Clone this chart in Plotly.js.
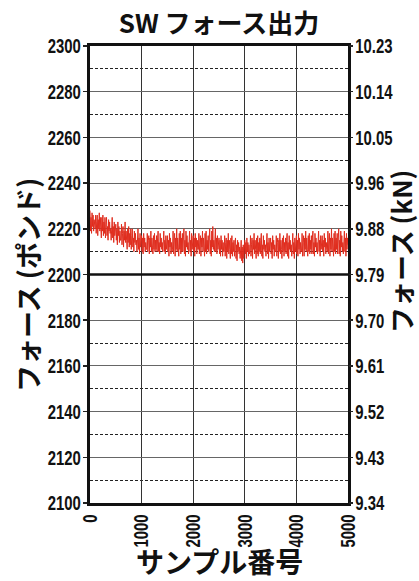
<!DOCTYPE html>
<html>
<head>
<meta charset="utf-8">
<script src="https://cdn.plot.ly/plotly-3.0.1.min.js"></script>
<style>
html,body{margin:0;padding:0;background:#fff;}
#chart{width:419px;height:581px;}
</style>
</head>
<body>
<div id="chart"></div>
<script>
// Sample number axis
const sampleStart = 0;
const sampleStep = 10;
const xTicks = [0, 1000, 2000, 3000, 4000, 5000];
const xTickText = ["0", "1000", "2000", "3000", "4000", "5000"];

// Force (lbf), one value every 10 samples
const forceLbf = [
 2228,2219,2225,2218,2227,2221,2226,2219,2224,2220,
 2220,2226,2218,2223,2226,2217,2224,2220,2227,2219,
 2225,2220,2216,2225,2219,2226,2217,2223,2218,2225,
 2216,2222,2225,2217,2221,2215,2224,2219,2223,2218,
 2220,2215,2222,2225,2216,2221,2214,2223,2217,2222,
 2222,2215,2220,2213,2223,2217,2221,2214,2219,2215,
 2215,2222,2213,2218,2221,2212,2219,2215,2223,2214,
 2219,2215,2211,2220,2214,2221,2212,2218,2213,2220,
 2211,2217,2220,2212,2216,2210,2219,2214,2218,2213,
 2215,2210,2217,2220,2211,2216,2209,2218,2212,2217,
 2217,2210,2216,2209,2218,2212,2216,2210,2214,2211,
 2211,2218,2210,2215,2217,2209,2216,2212,2219,2210,
 2216,2212,2209,2217,2211,2218,2210,2215,2211,2217,
 2210,2216,2219,2210,2214,2209,2218,2212,2216,2211,
 2214,2210,2216,2219,2210,2215,2209,2217,2211,2216,
 2217,2210,2215,2208,2218,2212,2216,2209,2214,2210,
 2211,2219,2209,2215,2218,2208,2216,2211,2220,2210,
 2216,2212,2208,2218,2211,2219,2209,2216,2210,2218,
 2210,2216,2220,2209,2215,2208,2219,2212,2217,2211,
 2214,2209,2217,2219,2210,2215,2208,2218,2211,2216,
 2217,2210,2216,2208,2218,2212,2216,2209,2215,2211,
 2211,2218,2209,2215,2217,2208,2216,2212,2219,2210,
 2216,2212,2208,2218,2210,2219,2209,2215,2211,2217,
 2210,2216,2220,2209,2215,2208,2219,2212,2221,2211,
 2215,2210,2218,2220,2210,2216,2209,2217,2211,2216,
 2216,2209,2215,2208,2217,2211,2215,2208,2214,2210,
 2210,2217,2208,2214,2216,2207,2215,2210,2218,2209,
 2215,2211,2207,2216,2209,2217,2208,2214,2210,2215,
 2208,2214,2216,2207,2213,2206,2215,2210,2214,2209,
 2212,2207,2214,2215,2206,2212,2205,2213,2207,2212,
 2215,2209,2214,2207,2216,2210,2214,2208,2213,2209,
 2210,2217,2208,2213,2216,2207,2215,2211,2218,2209,
 2215,2211,2207,2216,2209,2217,2208,2214,2210,2216,
 2209,2215,2218,2208,2213,2207,2217,2211,2215,2210,
 2213,2208,2216,2218,2209,2214,2207,2216,2210,2215,
 2216,2209,2214,2207,2217,2211,2215,2208,2213,2210,
 2210,2217,2208,2214,2216,2207,2215,2210,2218,2209,
 2215,2211,2207,2216,2210,2217,2208,2214,2210,2216,
 2209,2215,2218,2208,2214,2207,2217,2211,2215,2210,
 2213,2208,2216,2218,2209,2214,2207,2216,2210,2215,
 2217,2209,2215,2208,2218,2211,2216,2209,2214,2210,
 2210,2218,2208,2214,2217,2208,2216,2211,2219,2210,
 2216,2211,2208,2217,2210,2218,2209,2215,2211,2217,
 2209,2216,2219,2209,2214,2208,2218,2212,2216,2210,
 2214,2209,2217,2219,2210,2215,2208,2217,2211,2216,
 2217,2210,2215,2208,2218,2212,2216,2209,2214,2211,
 2210,2219,2209,2215,2218,2208,2216,2211,2220,2210,
 2216,2212,2208,2218,2210,2219,2209,2216,2211,2218,
 2209,2216,2220,2209,2215,2208,2219,2212,2217,2210,
 2214,2209,2217,2219,2210,2216,2208,2218,2211,2216,
 2213
];

// Left axis ticks (lbf) and right axis labels (kN)
const yTicksLbf = [2100,2120,2140,2160,2180,2200,2220,2240,2260,2280,2300];
const yTickText = ["2100","2120","2140","2160","2180","2200","2220","2240","2260","2280","2300"];
const kNTickText = ["9.34","9.43","9.52","9.61","9.70","9.79","9.88","9.96","10.05","10.14","10.23"];
const refLine = 2200;

const tickFont = {family: '"Liberation Sans", Arial, sans-serif', size: 21, color: '#111', weight: 'bold'};
const jp = '"Noto Sans CJK JP", sans-serif';
const titleFont = (s) => ({family: jp, size: s, color: '#111'});

const traces = [
  {
    type: 'scatter', mode: 'lines',
    x0: sampleStart, dx: sampleStep, y: forceLbf,
    line: {color: 'rgb(224,45,30)', width: 1},
    showlegend: false, hoverinfo: 'skip'
  },
  {
    type: 'scatter', mode: 'lines', x: [], y: [], yaxis: 'y2', showlegend: false
  }
];

const layout = {
  width: 419, height: 581,
  margin: {l: 90, r: 71, t: 46, b: 78},
  paper_bgcolor: '#fff', plot_bgcolor: '#fff',
  title: {
    text: '<b>SW フォース出力</b>',
    font: titleFont(26),
    x: 0.5, xref: 'paper', xanchor: 'center',
    y: 1 - 24/581, yref: 'container', yanchor: 'middle'
  },
  xaxis: {
    range: [0, 5000],
    tickvals: xTicks, ticktext: xTickText, tickangle: -90,
    tickfont: tickFont,
    ticks: '',
    showgrid: true, gridcolor: '#333', gridwidth: 1,
    showline: true, linecolor: '#111', linewidth: 3, mirror: true,
    zeroline: false
  },
  yaxis: {
    range: [2100, 2300],
    tickvals: yTicksLbf, ticktext: yTickText,
    tickfont: tickFont, ticklabelstandoff: -2,
    ticks: 'outside', ticklen: 4, tickwidth: 1.5, tickcolor: '#222',
    showgrid: true, gridcolor: '#666', gridwidth: 1,
    minor: {dtick: 10, tick0: 2100, showgrid: true, gridcolor: '#222', griddash: '3px,2px', gridwidth: 1},
    showline: true, linecolor: '#111', linewidth: 3, mirror: true,
    zeroline: false
  },
  yaxis2: {
    overlaying: 'y', side: 'right',
    range: [2100, 2300],
    tickvals: yTicksLbf, ticktext: kNTickText,
    tickfont: tickFont, ticklabelstandoff: -2,
    ticks: 'outside', ticklen: 4, tickwidth: 1.5, tickcolor: '#222',
    showgrid: false, zeroline: false, showline: false
  },
  annotations: [
    {text: '<b>フォース (ポンド)</b>', textangle: -90, font: titleFont(27),
     xref: 'paper', yref: 'paper', x: (27-90)/258, y: (503-285)/457,
     xanchor: 'center', yanchor: 'middle', showarrow: false},
    {text: '<b>フォース (kN)</b>', textangle: -90, font: titleFont(26),
     xref: 'paper', yref: 'paper', x: (401-90)/258, y: (503-252)/457,
     xanchor: 'center', yanchor: 'middle', showarrow: false},
    {text: '<b>サンプル番号</b>', font: titleFont(28),
     xref: 'paper', yref: 'paper', x: 0.5, y: (503-561)/457,
     xanchor: 'center', yanchor: 'middle', showarrow: false}
  ],
  shapes: [
    {type: 'line', xref: 'paper', x0: 0, x1: 1, yref: 'y', y0: refLine, y1: refLine,
     line: {color: '#111', width: 2.5}}
  ]
};

const gd = document.getElementById('chart');
Plotly.newPlot(gd, traces, layout, {displayModeBar: false, staticPlot: true}).then(() => {
  // condense tick label glyphs horizontally (condensed typeface look)
  gd.querySelectorAll('.xtick text, .ytick text, .y2tick text').forEach(t => {
    const X = parseFloat(t.getAttribute('x')) || 0;
    const Y = parseFloat(t.getAttribute('y')) || 0;
    const tr = t.getAttribute('transform') || '';
    t.setAttribute('transform', tr + ' translate(' + X + ',' + Y + ') scale(0.71,1) translate(' + (-X) + ',' + (-Y) + ')');
  });
});
</script>
</body>
</html>
